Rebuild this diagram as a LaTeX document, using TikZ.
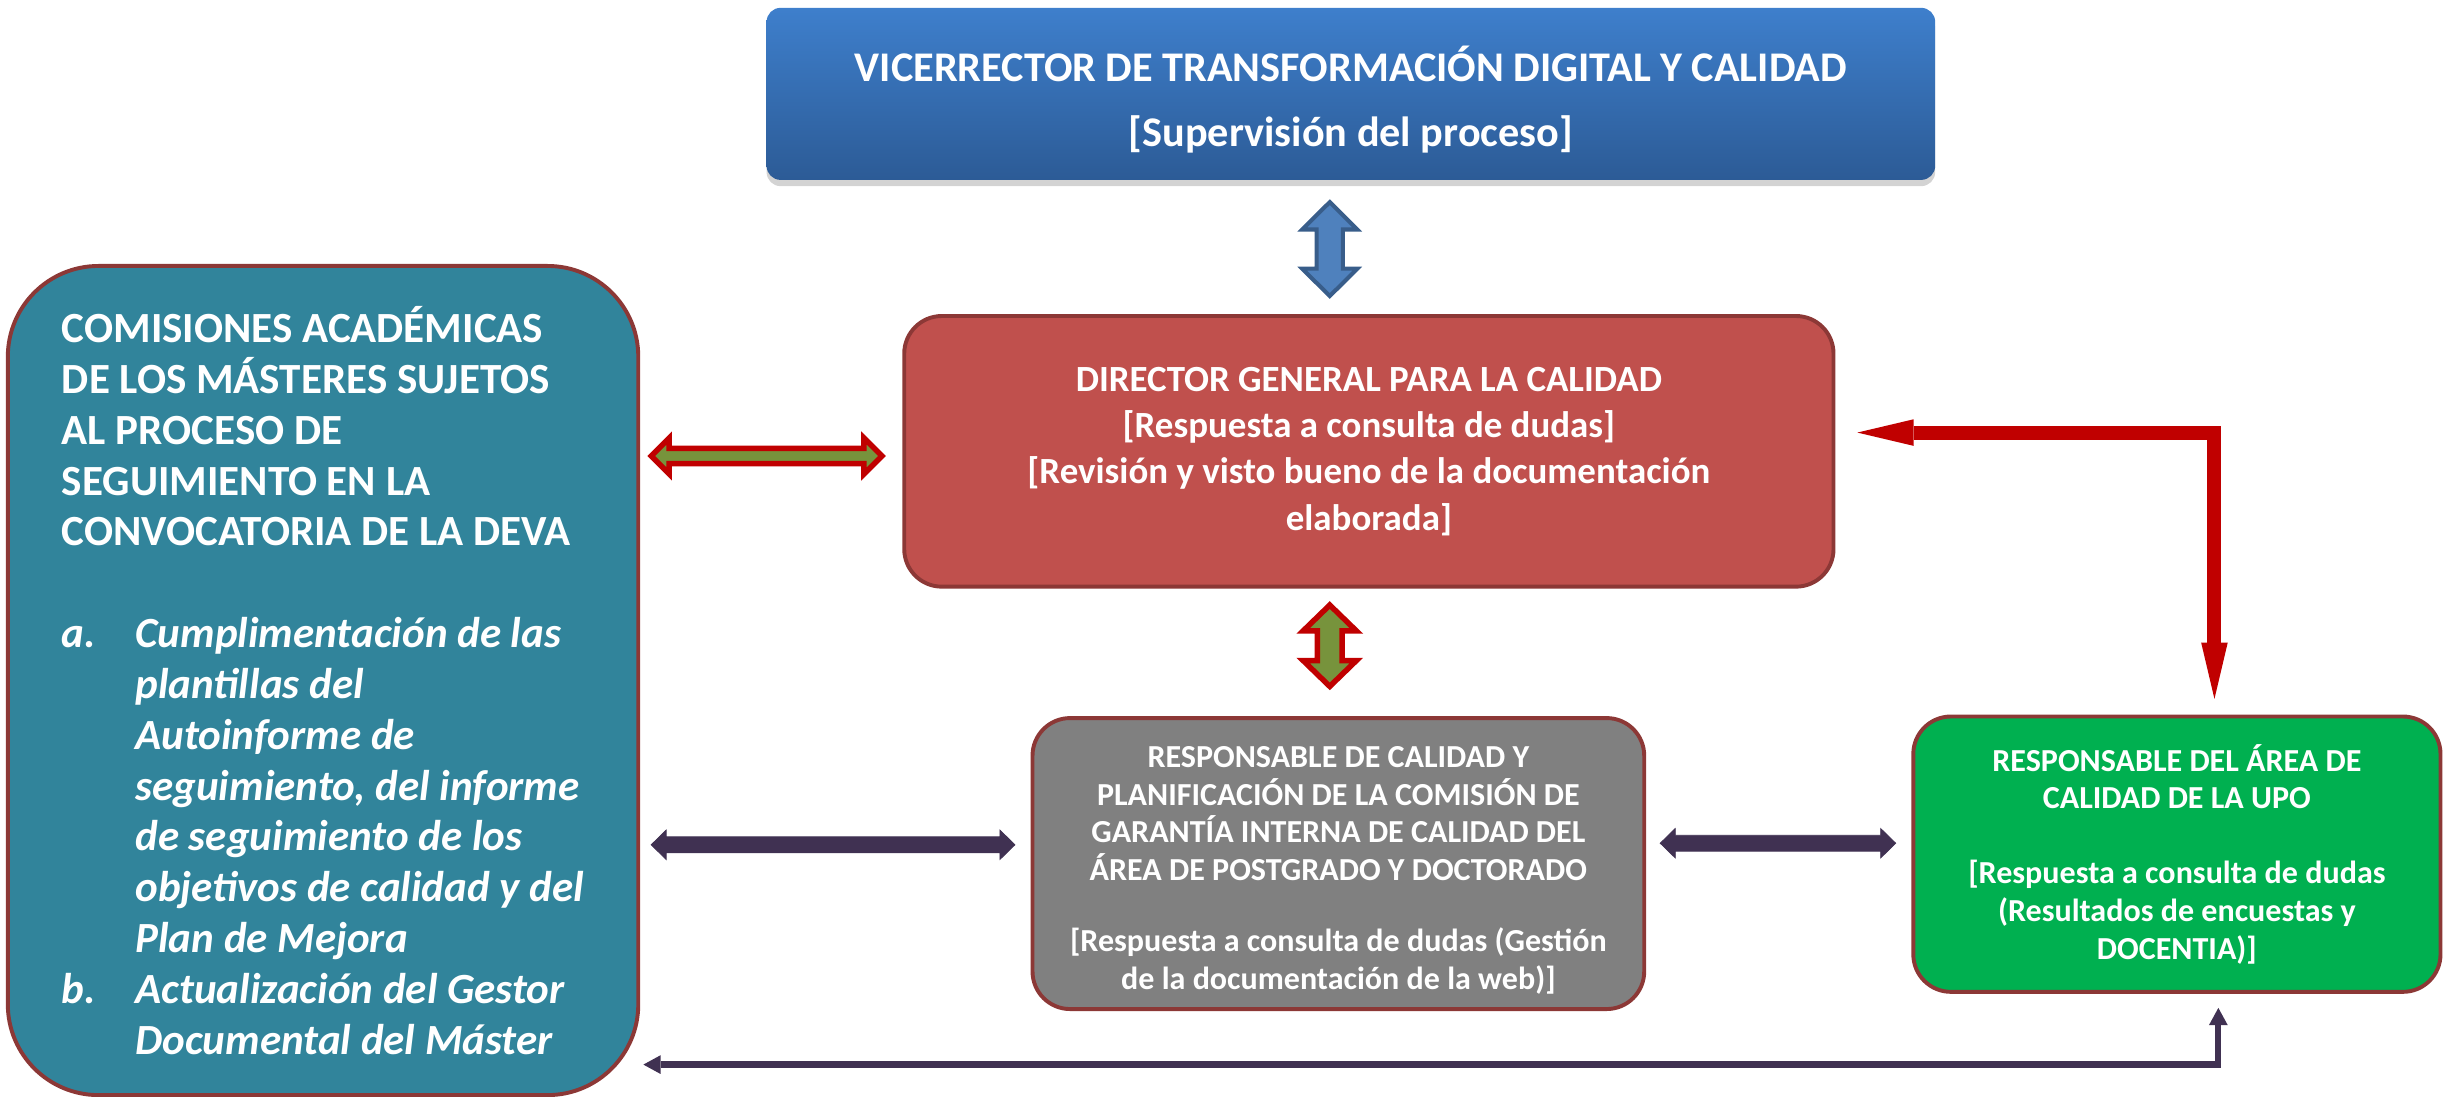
\documentclass[tikz,border=0pt]{standalone}
\usepackage{fontspec}
\setmainfont{Carlito}
\usepackage{tikz}
\usetikzlibrary{calc}
\usetikzlibrary{arrows.meta}
\usetikzlibrary{shadows}
\usepackage{xcolor}
\definecolor{vicetop}{HTML}{3E7FCC}
\definecolor{vicebot}{HTML}{2C5B96}
\definecolor{comteal}{HTML}{31849B}
\definecolor{dirred}{HTML}{C0504D}
\definecolor{cgicgrey}{HTML}{808080}
\definecolor{upogreen}{HTML}{00B050}
\definecolor{boxline}{HTML}{8C3836}
\definecolor{linkolive}{HTML}{77933C}
\definecolor{linkred}{HTML}{C00000}
\definecolor{linkpurple}{HTML}{403152}
\definecolor{linkblue}{HTML}{4F81BD}
\definecolor{linkblueline}{HTML}{385D8A}
\newcommand\vblock[6]{
  \filldraw[#1] let \p1=#2, \p2=#3 in
    (\x1,\y1) -- (\x1+#5,\y1-#6) -- (\x1+#4,\y1-#6) -- (\x1+#4,\y2+#6) -- (\x1+#5,\y2+#6)
    -- (\x1,\y2) -- (\x1-#5,\y2+#6) -- (\x1-#4,\y2+#6) -- (\x1-#4,\y1-#6) -- (\x1-#5,\y1-#6) -- cycle;
}
\newcommand\hblock[6]{
  \filldraw[#1] let \p1=#2, \p2=#3 in
    (\x1,\y1) -- (\x1+#6,\y1+#5) -- (\x1+#6,\y1+#4) -- (\x2-#6,\y1+#4) -- (\x2-#6,\y1+#5)
    -- (\x2,\y1) -- (\x2-#6,\y1-#5) -- (\x2-#6,\y1-#4) -- (\x1+#6,\y1-#4) -- (\x1+#6,\y1-#5) -- cycle;
}
\newcommand\listline[2]{\makebox[47pt][l]{\itshape #1}{\itshape #2}}

\begin{document}
\begin{tikzpicture}[x=1pt, y=-1pt,
    box/.style={rounded corners=24pt, text=white, align=center, inner sep=0pt},
    outbox/.style={box, draw=boxline, line width=2.5pt},
    bluelink/.style={fill=linkblue, draw=linkblueline, line width=2.6pt},
    olivelink/.style={fill=linkolive, draw=linkred, line width=3.5pt},
    purplelink/.style={fill=linkpurple, draw=linkpurple, line width=0.5pt},
    redline/.style={draw=linkred, line width=9pt,
      {Triangle[length=36pt,width=17pt,line width=0pt]}-{Triangle[length=36pt,width=17pt,line width=0pt]}},
    purpleline/.style={draw=linkpurple, line width=4pt,
      {Triangle[length=11pt,width=12pt,line width=0pt]}-{Triangle[length=11pt,width=12pt,line width=0pt]}}]
  \useasboundingbox (0,0) rectangle (1568,701);
  \coordinate (ax) at (850,0);
  \coordinate (rx) at (1415.5,0);
  \coordinate (bx) at (1418,0);
  \coordinate (by) at (0,680.5);

  \node[box, rounded corners=9pt, top color=vicetop, bottom color=vicebot,
        drop shadow={shadow xshift=0pt, shadow yshift=-4pt, opacity=0.35},
        minimum width=747pt, minimum height=110pt,
        font=\bfseries\fontsize{27}{41}\selectfont] (vice) at (863.5,60)
    {\rule{0pt}{30pt}VICERRECTOR DE TRANSFORMACIÓN DIGITAL Y CALIDAD\\{}[Supervisión del proceso]};

  \node[outbox, fill=comteal, rounded corners=58pt, align=left,
        minimum width=403pt, minimum height=530pt,
        font=\bfseries\fontsize{27.5}{32.5}\selectfont] (com) at (206.5,435)
    {COMISIONES ACADÉMICAS\\
     DE LOS MÁSTERES SUJETOS\\
     AL PROCESO DE\\
     SEGUIMIENTO EN LA\\
     CONVOCATORIA DE LA DEVA\\[32.5pt]
     \listline{a.}{Cumplimentación de las}\\
     \listline{}{plantillas del}\\
     \listline{}{Autoinforme de}\\
     \listline{}{seguimiento, del informe}\\
     \listline{}{de seguimiento de los}\\
     \listline{}{objetivos de calidad y del}\\
     \listline{}{Plan de Mejora}\\
     \listline{b.}{Actualización del Gestor}\\
     \listline{}{Documental del Máster}};

  \node[outbox, fill=dirred, minimum width=594pt, minimum height=173pt,
        font=\bfseries\fontsize{23.6}{29.7}\selectfont] (dir) at (875,288.5)
    {DIRECTOR GENERAL PARA LA CALIDAD\\{}[Respuesta a consulta de dudas]\\{}[Revisión y visto bueno de la documentación\\elaborada]};

  \node[outbox, fill=cgicgrey, minimum width=391pt, minimum height=186pt,
        font=\bfseries\fontsize{20.5}{24.2}\selectfont] (cgic) at (855.5,552)
    {\rule{0pt}{22pt}RESPONSABLE DE CALIDAD Y\\PLANIFICACIÓN DE LA COMISIÓN DE\\GARANTÍA INTERNA DE CALIDAD DEL\\ÁREA DE POSTGRADO Y DOCTORADO\\[21pt]{}[Respuesta a consulta de dudas (Gestión\\de la documentación de la web)]};

  \node[outbox, fill=upogreen, minimum width=337pt, minimum height=176pt,
        font=\bfseries\fontsize{20.5}{24}\selectfont] (upo) at (1391.5,546)
    {RESPONSABLE DEL ÁREA DE\\CALIDAD DE LA UPO\\[24pt]{}[Respuesta a consulta de dudas\\(Resultados de encuestas y\\DOCENTIA)]};

  \vblock{bluelink}{($(vice.south -| ax)+(0,14)$)}{($(dir.north -| ax)+(0,-11.5)$)}{8.4pt}{17.6pt}{17.5pt}
  \vblock{olivelink}{($(dir.south -| ax)+(0,10.5)$)}{($(cgic.north -| ax)+(0,-19)$)}{7.9pt}{17pt}{16.5pt}
  \hblock{olivelink}{($(com.east |- dir.west)+(7,3)$)}{($(dir.west)+(-13,3)$)}{4.9pt}{11.5pt}{11.5pt}
  \hblock{purplelink}{($(com.east |- cgic.west)+(7,-12)$)}{($(cgic.west)+(-10,-12)$)}{5.1pt}{9.4pt}{9.6pt}
  \hblock{purplelink}{($(cgic.east)+(9,-13)$)}{($(upo.west)+(-10,-7)$)}{5.1pt}{9.4pt}{9.6pt}

  \draw[redline] ($(dir.east)+(14,-12)$) -| ($(upo.north -| rx)+(0,-10)$);
  \draw[purpleline] ($(com.east |- by)+(2,0)$) -| ($(upo.south -| bx)+(0,9)$);
\end{tikzpicture}
\end{document}
